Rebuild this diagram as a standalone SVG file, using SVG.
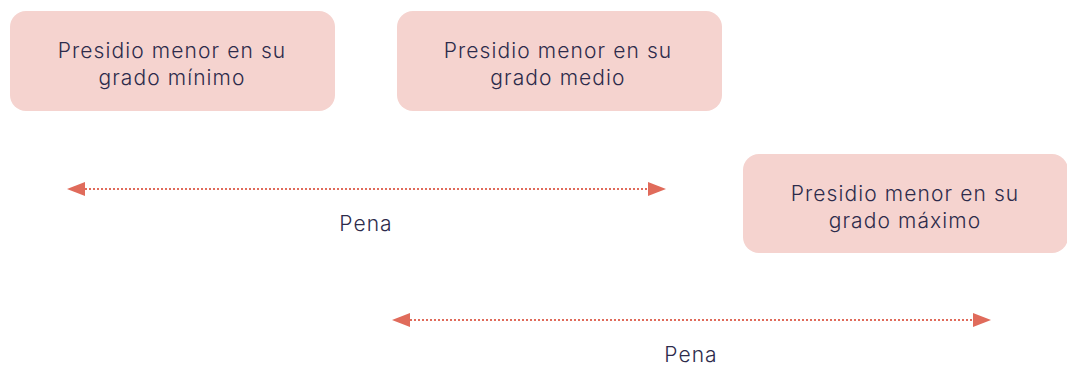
<svg xmlns="http://www.w3.org/2000/svg" width="1067" height="365" viewBox="0 0 1067 365">
<style>
.box{fill:#f5d3cf;}
.t{font-family:"Inter","Liberation Sans",sans-serif;font-size:21px;font-weight:300;letter-spacing:1.1px;fill:#2d2b4b;text-anchor:middle;}
.c{stroke:#e06b5b;stroke-width:2;stroke-dasharray:2 2;fill:none;}
</style>
<defs>
<marker id="ah" viewBox="0 0 18 14" refX="0" refY="7" markerWidth="18" markerHeight="14" markerUnits="userSpaceOnUse" orient="auto-start-reverse">
<path d="M0,0 L18,7 L0,14 Z" fill="#e06b5b"/>
</marker>
</defs>
<rect width="1067" height="365" fill="#ffffff"/>
<g id="node-minimo">
<rect class="box" x="10" y="11" width="325" height="100" rx="16"/>
<text class="t" x="172" y="58">Presidio menor en su</text>
<text class="t" x="172" y="85">grado mínimo</text>
</g>
<g id="node-medio">
<rect class="box" x="397" y="11" width="325" height="100" rx="16"/>
<text class="t" x="558" y="58">Presidio menor en su</text>
<text class="t" x="558" y="85">grado medio</text>
</g>
<g id="node-maximo">
<rect class="box" x="743" y="154" width="325" height="99" rx="16"/>
<text class="t" x="905" y="201">Presidio menor en su</text>
<text class="t" x="905" y="228">grado máximo</text>
</g>
<g id="connectors">
<line class="c" x1="85" y1="189" x2="648" y2="189" marker-start="url(#ah)" marker-end="url(#ah)"/>
<text class="t" x="366" y="231">Pena</text>
<line class="c" x1="410" y1="320" x2="973" y2="320" marker-start="url(#ah)" marker-end="url(#ah)"/>
<text class="t" x="691" y="362">Pena</text>
</g>
</svg>
